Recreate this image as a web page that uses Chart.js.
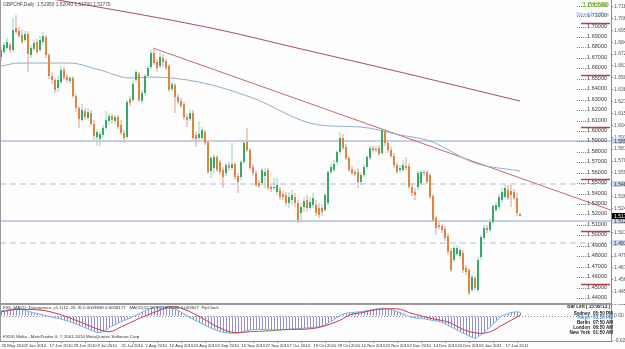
<!DOCTYPE html>
<html lang="es">
<head>
<meta charset="utf-8">
<title>GBPCHF Daily</title>
<script src="https://cdn.jsdelivr.net/npm/chart.js@4.4.1/dist/chart.umd.min.js"></script>
<style>
    html, body { margin: 0; padding: 0; background: #fdfdfd; }
    #wrap { position: relative; width: 625px; height: 349px; overflow: hidden; }
    #priceBox { position: absolute; left: 0; top: 0; width: 625px; height: 304px; }
    #macdBox { position: absolute; left: 0; top: 304px; width: 625px; height: 45px; }
</style>
</head>
<body>
<div id="wrap">
    <div id="priceBox"><canvas id="priceChart"></canvas></div>
    <div id="macdBox"><canvas id="macdChart"></canvas></div>
</div>
<script>
// Velas diarias GBPCHF (26 May 2010 - 24 Jan 2011), una por barra
const opens = [
    1.6699, 1.6747, 1.6785, 1.6814, 1.6766, 1.6977, 1.6948, 1.6910, 1.6862, 1.6919,
    1.6718, 1.6776, 1.6843, 1.6766, 1.6843, 1.6890, 1.6718, 1.6517, 1.6479, 1.6402,
    1.6459, 1.6574, 1.6507, 1.6469, 1.6498, 1.6325, 1.6210, 1.6095, 1.6182, 1.6115,
    1.6162, 1.6057, 1.5933, 1.5913, 1.5952, 1.6019, 1.6086, 1.6134, 1.6086, 1.6124,
    1.6048, 1.5971, 1.5933, 1.6297, 1.6287, 1.6479, 1.6536, 1.6277, 1.6354, 1.6517,
    1.6603, 1.6737, 1.6651, 1.6613, 1.6689, 1.6661, 1.6613, 1.6392, 1.6431, 1.6316,
    1.6277, 1.6249, 1.6124, 1.6105, 1.6162, 1.5952, 1.5923, 1.5923, 1.5980, 1.5885,
    1.5607, 1.5636, 1.5741, 1.5693, 1.5616, 1.5588, 1.5664, 1.5636, 1.5674, 1.5559,
    1.5549, 1.5693, 1.5885, 1.5808, 1.5645, 1.5588, 1.5492, 1.5492, 1.5559, 1.5616,
    1.5454, 1.5444, 1.5406, 1.5425, 1.5386, 1.5377, 1.5300, 1.5329, 1.5358, 1.5300,
    1.5204, 1.5262, 1.5329, 1.5252, 1.5281, 1.5281, 1.5252, 1.5252, 1.5233, 1.5300,
    1.5597, 1.5616, 1.5693, 1.5789, 1.5923, 1.5837, 1.5731, 1.5626, 1.5597, 1.5597,
    1.5501, 1.5569, 1.5645, 1.5731, 1.5827, 1.5808, 1.5827, 1.5779, 1.5990, 1.5875,
    1.5808, 1.5751, 1.5664, 1.5616, 1.5616, 1.5655, 1.5655, 1.5454, 1.5406, 1.5454,
    1.5492, 1.5588, 1.5597, 1.5569, 1.5367, 1.5157, 1.5090, 1.5080, 1.5051, 1.4984,
    1.4840, 1.4754, 1.4812, 1.4793, 1.4821, 1.4678, 1.4659, 1.4467, 1.4582, 1.4467,
    1.4783, 1.4965, 1.5061, 1.5042, 1.5118, 1.5233, 1.5262, 1.5329, 1.5358, 1.5425,
    1.5415, 1.5406, 1.5348, 1.5195
];
const highs = [
    1.6795, 1.6843, 1.6881, 1.6833, 1.7073, 1.7101, 1.6986, 1.6958, 1.6948, 1.6948,
    1.6814, 1.6862, 1.6871, 1.6900, 1.6938, 1.6910, 1.6737, 1.6555, 1.6498, 1.6517,
    1.6613, 1.6603, 1.6536, 1.6517, 1.6517, 1.6344, 1.6230, 1.6249, 1.6210, 1.6210,
    1.6191, 1.6095, 1.6009, 1.5990, 1.6048, 1.6182, 1.6162, 1.6153, 1.6143, 1.6143,
    1.6095, 1.6000, 1.6287, 1.6325, 1.6479, 1.6574, 1.6555, 1.6383, 1.6536, 1.6613,
    1.6766, 1.6785, 1.6680, 1.6747, 1.6728, 1.6680, 1.6632, 1.6459, 1.6450, 1.6344,
    1.6306, 1.6268, 1.6153, 1.6191, 1.6191, 1.5980, 1.6086, 1.6028, 1.6000, 1.5904,
    1.5751, 1.5770, 1.5760, 1.5712, 1.5645, 1.5683, 1.5693, 1.5875, 1.5693, 1.5588,
    1.5712, 1.5904, 1.6019, 1.5827, 1.5674, 1.5616, 1.5521, 1.5636, 1.5636, 1.5636,
    1.5473, 1.5540, 1.5540, 1.5454, 1.5415, 1.5406, 1.5406, 1.5425, 1.5396, 1.5329,
    1.5300, 1.5358, 1.5377, 1.5358, 1.5396, 1.5329, 1.5300, 1.5291, 1.5396, 1.5616,
    1.5674, 1.5712, 1.5808, 1.5980, 1.5961, 1.5866, 1.5751, 1.5655, 1.5626, 1.5636,
    1.5597, 1.5674, 1.5760, 1.5846, 1.5846, 1.5846, 1.5856, 1.6019, 1.6009, 1.5904,
    1.5837, 1.5779, 1.5693, 1.5664, 1.5712, 1.5741, 1.5683, 1.5492, 1.5444, 1.5607,
    1.5616, 1.5616, 1.5616, 1.5588, 1.5386, 1.5176, 1.5118, 1.5099, 1.5080, 1.5013,
    1.4869, 1.4898, 1.4898, 1.4879, 1.4850, 1.4706, 1.4678, 1.4610, 1.4601, 1.4783,
    1.4994, 1.5090, 1.5090, 1.5147, 1.5291, 1.5310, 1.5386, 1.5444, 1.5473, 1.5473,
    1.5473, 1.5434, 1.5396, 1.5204
];
const lows = [
    1.6651, 1.6728, 1.6766, 1.6737, 1.6747, 1.6919, 1.6881, 1.6824, 1.6843, 1.6555,
    1.6689, 1.6756, 1.6728, 1.6747, 1.6814, 1.6689, 1.6488, 1.6440, 1.6354, 1.6364,
    1.6440, 1.6479, 1.6450, 1.6440, 1.6306, 1.6172, 1.6019, 1.6076, 1.6095, 1.6086,
    1.6038, 1.5904, 1.5846, 1.5846, 1.5933, 1.6000, 1.6057, 1.6067, 1.6057, 1.6009,
    1.5952, 1.5875, 1.5913, 1.6230, 1.6268, 1.6459, 1.6268, 1.6249, 1.6325, 1.6498,
    1.6584, 1.6622, 1.6555, 1.6594, 1.6613, 1.6574, 1.6364, 1.6373, 1.6162, 1.6249,
    1.6210, 1.6095, 1.6028, 1.6086, 1.5904, 1.5837, 1.5904, 1.5904, 1.5856, 1.5578,
    1.5540, 1.5588, 1.5597, 1.5569, 1.5444, 1.5559, 1.5607, 1.5616, 1.5521, 1.5396,
    1.5521, 1.5674, 1.5789, 1.5616, 1.5559, 1.5454, 1.5444, 1.5473, 1.5444, 1.5425,
    1.5406, 1.5425, 1.5377, 1.5329, 1.5329, 1.5272, 1.5252, 1.5281, 1.5262, 1.5109,
    1.5118, 1.5214, 1.5214, 1.5233, 1.5252, 1.5176, 1.5157, 1.5176, 1.5214, 1.5281,
    1.5578, 1.5597, 1.5664, 1.5770, 1.5808, 1.5712, 1.5597, 1.5569, 1.5559, 1.5444,
    1.5473, 1.5549, 1.5626, 1.5712, 1.5789, 1.5789, 1.5751, 1.5760, 1.5846, 1.5779,
    1.5731, 1.5636, 1.5578, 1.5588, 1.5597, 1.5616, 1.5434, 1.5367, 1.5329, 1.5425,
    1.5473, 1.5559, 1.5482, 1.5339, 1.5118, 1.4994, 1.5051, 1.5013, 1.4936, 1.4802,
    1.4639, 1.4735, 1.4793, 1.4773, 1.4630, 1.4610, 1.4419, 1.4448, 1.4467, 1.4448,
    1.4754, 1.4946, 1.5013, 1.5023, 1.5099, 1.5214, 1.5243, 1.5300, 1.5339, 1.5329,
    1.5262, 1.5329, 1.5176, 1.5170
];
const closes = [
    1.6766, 1.6814, 1.6843, 1.6766, 1.6958, 1.6938, 1.6900, 1.6843, 1.6919, 1.6728,
    1.6785, 1.6833, 1.6747, 1.6862, 1.6900, 1.6718, 1.6517, 1.6479, 1.6383, 1.6479,
    1.6574, 1.6498, 1.6479, 1.6498, 1.6325, 1.6210, 1.6105, 1.6191, 1.6124, 1.6172,
    1.6057, 1.5942, 1.5980, 1.5961, 1.6019, 1.6095, 1.6134, 1.6095, 1.6124, 1.6028,
    1.5971, 1.5923, 1.6268, 1.6258, 1.6440, 1.6555, 1.6287, 1.6354, 1.6517, 1.6594,
    1.6737, 1.6641, 1.6594, 1.6699, 1.6651, 1.6594, 1.6383, 1.6440, 1.6316, 1.6268,
    1.6230, 1.6124, 1.6095, 1.6162, 1.5923, 1.5913, 1.5961, 1.6000, 1.5875, 1.5597,
    1.5731, 1.5741, 1.5616, 1.5597, 1.5549, 1.5664, 1.5636, 1.5674, 1.5549, 1.5501,
    1.5693, 1.5875, 1.5808, 1.5636, 1.5588, 1.5473, 1.5463, 1.5616, 1.5597, 1.5444,
    1.5434, 1.5454, 1.5473, 1.5358, 1.5358, 1.5300, 1.5358, 1.5377, 1.5300, 1.5137,
    1.5262, 1.5319, 1.5252, 1.5310, 1.5348, 1.5204, 1.5185, 1.5214, 1.5377, 1.5597,
    1.5645, 1.5674, 1.5789, 1.5923, 1.5827, 1.5731, 1.5616, 1.5588, 1.5578, 1.5501,
    1.5569, 1.5645, 1.5741, 1.5827, 1.5808, 1.5818, 1.5770, 1.6000, 1.5875, 1.5808,
    1.5751, 1.5664, 1.5597, 1.5636, 1.5664, 1.5636, 1.5454, 1.5396, 1.5377, 1.5588,
    1.5597, 1.5597, 1.5501, 1.5358, 1.5137, 1.5061, 1.5070, 1.5042, 1.4965, 1.4831,
    1.4659, 1.4869, 1.4869, 1.4850, 1.4659, 1.4639, 1.4438, 1.4591, 1.4486, 1.4754,
    1.4975, 1.5061, 1.5042, 1.5118, 1.5272, 1.5281, 1.5358, 1.5406, 1.5444, 1.5348,
    1.5377, 1.5348, 1.5204, 1.5177
];

// Eje de fechas (una etiqueta cada 8 barras)
const dateTickBars = [0, 8, 16, 24, 32, 40, 48, 56, 64, 72, 80, 88, 96, 104, 112, 120, 128, 136, 144, 152, 160, 168];
const dateLabels = ['26 May 2010', '7 Jun 2010', '17 Jun 2010', '29 Jun 2010', '9 Jul 2010', '21 Jul 2010',
    '2 Aug 2010', '12 Aug 2010', '24 Aug 2010', '3 Sep 2010', '15 Sep 2010', '27 Sep 2010', '7 Oct 2010',
    '19 Oct 2010', '29 Oct 2010', '10 Nov 2010', '22 Nov 2010', '2 Dec 2010', '14 Dec 2010', '24 Dec 2010',
    '5 Jan 2011', '17 Jan 2011'];

// Medias móviles y línea de tendencia
const maSlowBars = [10, 20, 70, 100, 133, 173];
const maSlowValues = [1.7290, 1.7240, 1.6977, 1.6776, 1.6555, 1.6277];
const maFastBars = [0, 6, 16, 23, 33, 43, 50, 66, 83, 106, 120, 133, 143, 158, 173];
const maFastValues = [1.6613, 1.6641, 1.6641, 1.6641, 1.6574, 1.6498, 1.6507, 1.6459, 1.6316, 1.6048, 1.6028, 1.5952, 1.5894, 1.5683, 1.5607];
const trendBars = [50.7, 203.2];
const trendValues = [1.6785, 1.5233];

// Líneas horizontales
const hLevels = [1.5894, 1.5482, 1.5128, 1.4918];
const hDashed = [false, true, false, true];

// Etiquetas de niveles redondos dentro del gráfico
const levelLabels = [1.72, 1.71, 1.70, 1.69, 1.68, 1.67, 1.66, 1.65, 1.64, 1.63, 1.62, 1.61, 1.60, 1.59,
    1.58, 1.57, 1.56, 1.55, 1.54, 1.53, 1.52, 1.51, 1.50, 1.49, 1.48, 1.47, 1.46, 1.45, 1.44];
// Escala de precios a la derecha
const priceAxisTicks = [1.71835, 1.70690, 1.69550, 1.68400, 1.67275, 1.66135, 1.65000, 1.63860, 1.62715,
    1.61570, 1.60450, 1.59300, 1.58175, 1.57020, 1.55900, 1.54750, 1.53625, 1.52470, 1.51345, 1.50195,
    1.49050, 1.47920, 1.46780, 1.45645, 1.44500];

// MACD (histograma por barra) y señal
const macdValues = [
    0.0053, 0.0057, 0.0061, 0.0065, 0.0070, 0.0071, 0.0068, 0.0063, 0.0056, 0.0046,
    0.0038, 0.0031, 0.0024, 0.0017, 0.0010, 0.0003, -0.0005, -0.0012, -0.0019, -0.0025,
    -0.0032, -0.0042, -0.0051, -0.0060, -0.0070, -0.0082, -0.0095, -0.0106, -0.0118, -0.0131,
    -0.0144, -0.0156, -0.0167, -0.0165, -0.0157, -0.0137, -0.0114, -0.0098, -0.0083, -0.0069,
    -0.0056, -0.0044, -0.0032, -0.0020, -0.0005, 0.0010, 0.0025, 0.0040, 0.0055, 0.0070,
    0.0081, 0.0088, 0.0091, 0.0093, 0.0092, 0.0090, 0.0088, 0.0080, 0.0068, 0.0054,
    0.0037, 0.0018, 0.0000, -0.0020, -0.0036, -0.0050, -0.0065, -0.0080, -0.0095, -0.0110,
    -0.0123, -0.0135, -0.0146, -0.0157, -0.0163, -0.0168, -0.0172, -0.0173, -0.0171, -0.0169,
    -0.0165, -0.0155, -0.0146, -0.0140, -0.0137, -0.0135, -0.0133, -0.0134, -0.0137, -0.0140,
    -0.0140, -0.0140, -0.0140, -0.0140, -0.0138, -0.0136, -0.0134, -0.0132, -0.0130, -0.0127,
    -0.0124, -0.0121, -0.0118, -0.0115, -0.0113, -0.0110, -0.0108, -0.0100, -0.0088, -0.0070,
    -0.0052, -0.0032, -0.0012, 0.0008, 0.0020, 0.0028, 0.0032, 0.0034, 0.0038, 0.0041,
    0.0045, 0.0050, 0.0055, 0.0060, 0.0065, 0.0070, 0.0075, 0.0078, 0.0076, 0.0071,
    0.0064, 0.0054, 0.0043, 0.0033, 0.0020, 0.0006, -0.0008, -0.0015, -0.0020, -0.0022,
    -0.0024, -0.0030, -0.0035, -0.0040, -0.0046, -0.0051, -0.0056, -0.0066, -0.0082, -0.0097,
    -0.0112, -0.0127, -0.0142, -0.0157, -0.0172, -0.0188, -0.0203, -0.0214, -0.0223, -0.0205,
    -0.0185, -0.0160, -0.0133, -0.0107, -0.0077, -0.0047, -0.0017, 0.0003, 0.0015, 0.0027,
    0.0035, 0.0040, 0.0043, 0.0033
];
const signalBars = [0, 6, 13, 20, 26, 33, 36, 40, 46, 53, 56, 60, 66, 73, 78, 83, 90, 96, 100, 103,
    106, 113, 116, 120, 123, 126, 130, 133, 136, 140, 143, 146, 150, 153, 156, 160, 163, 166, 170, 173];
const signalValues = [0.0043, 0.0067, 0.0060, 0.0010, -0.0057, -0.0140, -0.0157, -0.0107, -0.0023, 0.0060,
    0.0093, 0.0077, -0.0007, -0.0123, -0.0167, -0.0157, -0.0147, -0.0133, -0.0133, -0.0127,
    -0.0113, -0.0040, 0.0010, 0.0033, 0.0053, 0.0067, 0.0073, 0.0067, 0.0033, 0.0000,
    -0.0023, -0.0040, -0.0073, -0.0123, -0.0157, -0.0173, -0.0157, -0.0107, -0.0040, 0.0010];

const clockLines = [
    ['Sydney', '05:50 PM'], ['Tokyo', '03:50 PM'], ['Berlin', '07:50 AM'],
    ['London', '06:50 AM'], ['New York', '01:50 AM']
];

const FONT = '"Liberation Sans", Arial, sans-serif';
const BG = '#fdfdfd';
const BULL = '#3aa86b';
const BEAR = '#de8540';
const BULL_WICK = '#9fd0b0';
const BEAR_WICK = '#d6a2a2';

// 3 px por barra, área de trazado 611 px de ancho
const PRICE_X_MIN = -1 / 3;
const PRICE_X_MAX = PRICE_X_MIN + 611 / 3;
const MACD_X_MIN = -0.5;
const MACD_X_MAX = MACD_X_MIN + 611 / 3;
const PRICE_MIN = 1.4333;
const PRICE_MAX = 1.7245;
const MACD_MIN = -0.025;
const MACD_MAX = 0.012;

Chart.defaults.font.family = FONT;

function toPoints(xs, ys) {
    return xs.map((x, k) => ({ x: x, y: ys[k] }));
}

function isBull(i) {
    return closes[i] >= opens[i];
}

// Decoración del panel de precios
const priceDecor = {
    id: 'priceDecor',
    beforeDraw(chart) {
        const ctx = chart.ctx;
        ctx.save();
        ctx.fillStyle = BG;
        ctx.fillRect(0, 0, chart.width, chart.height);
        ctx.restore();
    },
    afterDatasetsDraw(chart) {
        const { ctx, chartArea, scales } = chart;
        const y = scales.y;
        ctx.save();

        ctx.font = '5.5px ' + FONT;
        ctx.textAlign = 'right';
        ctx.textBaseline = 'middle';
        levelLabels.forEach(v => {
            const py = Math.round(y.getPixelForValue(v));
            ctx.fillStyle = '#7c7cb4';
            for (let px = 577; px < 587; px += 2) ctx.fillRect(px, py + 1, 1, 1);
            ctx.fillStyle = '#3a3a3a';
            ctx.fillText(v.toFixed(5), 607, py + 0.5);
            if (Math.round(v * 100) % 5 === 0) {
                ctx.strokeStyle = '#b4404e';
                ctx.lineWidth = 1.5;
                ctx.beginPath();
                ctx.moveTo(581, py - 2.5);
                ctx.lineTo(chartArea.right - 1, py - 2.5);
                ctx.stroke();
            }
        });

        // título y precio actual
        const last = closes.length - 1;
        ctx.textAlign = 'left';
        ctx.fillStyle = '#4a4a4a';
        ctx.font = '4.8px ' + FONT;
        ctx.fillText('GBPCHF,Daily  ' + opens[last].toFixed(5) + ' ' + highs[last].toFixed(5) + ' ' +
            lows[last].toFixed(5) + ' ' + closes[last].toFixed(5), 3, 4.5);

        ctx.textAlign = 'right';
        ctx.font = 'bold 7.5px ' + FONT;
        ctx.fillStyle = '#86cc2a';
        ctx.fillText(closes[last].toFixed(5), 609, 5);
        ctx.font = '5px ' + FONT;
        ctx.fillStyle = '#6f9fd4';
        ctx.fillText('Spread: 3 Pips', 609, 14.5);

        // marcas en la escala de precios
        ctx.textAlign = 'left';
        ctx.font = '5px ' + FONT;
        hLevels.forEach(v => {
            const py = Math.round(y.getPixelForValue(v));
            ctx.fillStyle = '#c9d7ee';
            ctx.fillRect(chartArea.right + 1, py - 3, 14, 6);
            ctx.fillStyle = '#333';
            ctx.fillText(v.toFixed(5), chartArea.right + 3, py + 0.5);
        });
        const pc = Math.round(y.getPixelForValue(closes[last]));
        ctx.fillStyle = '#000';
        ctx.fillRect(chartArea.right + 1, pc - 3, 14, 6);
        ctx.fillStyle = '#fff';
        ctx.fillText(closes[last].toFixed(5), chartArea.right + 3, pc + 0.5);

        // marco
        ctx.strokeStyle = '#9a9a9a';
        ctx.lineWidth = 1;
        ctx.beginPath();
        ctx.moveTo(0.5, 0);
        ctx.lineTo(0.5, chartArea.bottom);
        ctx.moveTo(0, chartArea.bottom - 0.5);
        ctx.lineTo(chartArea.right, chartArea.bottom - 0.5);
        ctx.stroke();
        ctx.restore();
    }
};

// Decoración del panel MACD
const macdDecor = {
    id: 'macdDecor',
    beforeDraw(chart) {
        const ctx = chart.ctx;
        ctx.save();
        ctx.fillStyle = BG;
        ctx.fillRect(0, 0, chart.width, chart.height);
        ctx.restore();
    },
    beforeDatasetsDraw(chart) {
        const { ctx, chartArea, scales } = chart;
        const zero = Math.round(scales.y.getPixelForValue(0)) + 0.5;
        ctx.save();
        ctx.strokeStyle = '#8a8ab0';
        ctx.setLineDash([1, 2]);
        ctx.beginPath();
        ctx.moveTo(chartArea.left, zero);
        ctx.lineTo(chartArea.right, zero);
        ctx.stroke();
        ctx.restore();
    },
    afterDatasetsDraw(chart) {
        const { ctx, chartArea } = chart;
        ctx.save();
        ctx.fillStyle = '#333';
        ctx.textBaseline = 'middle';
        ctx.textAlign = 'left';
        ctx.font = '4.4px ' + FONT;
        ctx.fillText('FX5_MACD_Divergence_v1.1(12, 26, 9) 0.0003848 0.0008177   MACD(12,26,9) 0.003282 0.003627  PipClock', 3, 3.5);
        ctx.fillText('FXDD Malta - MetaTrader 4, \u00a9 2001-2010 MetaQuotes Software Corp.', 3, 32.5);

        // reloj de sesiones
        ctx.textAlign = 'right';
        ctx.font = 'bold 4.6px ' + FONT;
        ctx.fillStyle = '#222';
        ctx.fillText('Bar Left [ 15:09:13 ]', 610, 2.5);
        clockLines.forEach((row, k) => {
            const py = 9.5 + k * 4.7;
            ctx.fillStyle = k === 1 ? '#4c86d6' : '#222';
            ctx.textAlign = 'right';
            ctx.fillText(row[0], 590, py);
            ctx.textAlign = 'left';
            ctx.fillText(row[1], 593, py);
        });

        ctx.strokeStyle = '#9a9a9a';
        ctx.lineWidth = 1;
        ctx.beginPath();
        ctx.moveTo(0, 0.5);
        ctx.lineTo(chartArea.right, 0.5);
        ctx.moveTo(0.5, 0);
        ctx.lineTo(0.5, chartArea.bottom);
        ctx.stroke();
        ctx.restore();
    }
};

function renderPriceChart() {
    const ctx = document.getElementById('priceChart').getContext('2d');
    const bodies = opens.map((o, i) => ({ x: i, y: [Math.min(o, closes[i]), Math.max(o, closes[i])] }));
    const wicks = highs.map((h, i) => ({ x: i, y: [lows[i], h] }));

    const datasets = [
        {
            type: 'bar', data: bodies, order: 0, grouped: false,
            barThickness: 2, minBarLength: 1, inflateAmount: 0, borderWidth: 0,
            backgroundColor: opens.map((o, i) => isBull(i) ? BULL : BEAR)
        },
        {
            type: 'bar', data: wicks, order: 1, grouped: false,
            barThickness: 1, inflateAmount: 0, borderWidth: 0,
            backgroundColor: opens.map((o, i) => isBull(i) ? BULL_WICK : BEAR_WICK)
        },
        {
            type: 'line', data: toPoints(maSlowBars, maSlowValues), order: 2,
            borderColor: '#a6505f', borderWidth: 1, pointRadius: 0, cubicInterpolationMode: 'monotone'
        },
        {
            type: 'line', data: toPoints(maFastBars, maFastValues), order: 3,
            borderColor: '#8fafca', borderWidth: 1, pointRadius: 0, cubicInterpolationMode: 'monotone'
        },
        {
            type: 'line', data: toPoints(trendBars, trendValues), order: 4,
            borderColor: '#c96674', borderWidth: 1, pointRadius: 0
        }
    ];
    hLevels.forEach((level, k) => {
        datasets.push({
            type: 'line', data: [{ x: PRICE_X_MIN, y: level }, { x: PRICE_X_MAX, y: level }], order: 6,
            borderColor: '#c6d2e4', borderWidth: hDashed[k] ? 1.5 : 2, pointRadius: 0,
            borderDash: hDashed[k] ? [6, 4] : []
        });
    });

    return new Chart(ctx, {
        type: 'bar',
        data: { datasets: datasets },
        options: {
            responsive: true,
            maintainAspectRatio: false,
            animation: false,
            devicePixelRatio: 1,
            events: [],
            layout: { padding: 0 },
            plugins: { legend: { display: false }, tooltip: { enabled: false } },
            scales: {
                x: { type: 'linear', min: PRICE_X_MIN, max: PRICE_X_MAX, display: false, offset: false },
                y: {
                    type: 'linear', position: 'right', min: PRICE_MIN, max: PRICE_MAX,
                    afterBuildTicks: s => { s.ticks = priceAxisTicks.map(v => ({ value: v })); },
                    afterFit: s => { s.width = 14; s.paddingTop = 0; s.paddingBottom = 0; },
                    ticks: {
                        autoSkip: false, padding: 1, color: '#555',
                        font: { size: 5 },
                        callback: v => v.toFixed(5)
                    },
                    grid: { drawOnChartArea: false, tickLength: 2, color: '#888' },
                    border: { display: true, color: '#8c8c8c' }
                }
            }
        },
        plugins: [priceDecor]
    });
}

function renderMacdChart() {
    const ctx = document.getElementById('macdChart').getContext('2d');
    return new Chart(ctx, {
        type: 'bar',
        data: {
            datasets: [
                {
                    type: 'line', data: toPoints(signalBars, signalValues), order: 0,
                    borderColor: '#c83c4c', borderWidth: 1, pointRadius: 0, cubicInterpolationMode: 'monotone',
                    segment: {
                        borderColor: c => (c.p0.parsed.x >= 83 && c.p1.parsed.x <= 96) ? '#5a9a3a' : undefined
                    }
                },
                {
                    type: 'line', data: macdValues.map((v, i) => ({ x: i, y: v })), order: 1,
                    borderColor: '#74b2ec', borderWidth: 1, pointRadius: 0, cubicInterpolationMode: 'monotone'
                },
                {
                    type: 'bar', data: macdValues.map((v, i) => ({ x: i, y: v })), order: 2, grouped: false,
                    barThickness: 1, inflateAmount: 0, borderWidth: 0, backgroundColor: '#9090c6'
                }
            ]
        },
        options: {
            responsive: true,
            maintainAspectRatio: false,
            animation: false,
            devicePixelRatio: 1,
            events: [],
            layout: { padding: 0 },
            plugins: { legend: { display: false }, tooltip: { enabled: false } },
            scales: {
                x: {
                    type: 'linear', min: MACD_X_MIN, max: MACD_X_MAX, offset: false, position: 'bottom',
                    afterBuildTicks: s => { s.ticks = dateTickBars.map(v => ({ value: v })); },
                    afterFit: s => { s.height = 8; s.paddingLeft = 0; s.paddingRight = 0; },
                    ticks: {
                        autoSkip: false, maxRotation: 0, minRotation: 0, align: 'start', padding: 0,
                        color: '#333', font: { size: 4.2 },
                        callback: v => dateLabels[dateTickBars.indexOf(v)]
                    },
                    grid: { drawOnChartArea: false, tickLength: 2, color: '#888' },
                    border: { display: true, color: '#8c8c8c' }
                },
                y: {
                    type: 'linear', position: 'right', min: MACD_MIN, max: MACD_MAX,
                    afterBuildTicks: s => { s.ticks = [MACD_MAX, 0, MACD_MIN].map(v => ({ value: v })); },
                    afterFit: s => { s.width = 14; s.paddingTop = 0; s.paddingBottom = 0; },
                    ticks: {
                        autoSkip: false, padding: 1, color: '#555', font: { size: 5 },
                        callback: v => v === 0 ? '0.00' : v.toFixed(5)
                    },
                    grid: { drawOnChartArea: false, tickLength: 2, color: '#888' },
                    border: { display: true, color: '#8c8c8c' }
                }
            }
        },
        plugins: [macdDecor]
    });
}

renderPriceChart();
renderMacdChart();
</script>
</body>
</html>
